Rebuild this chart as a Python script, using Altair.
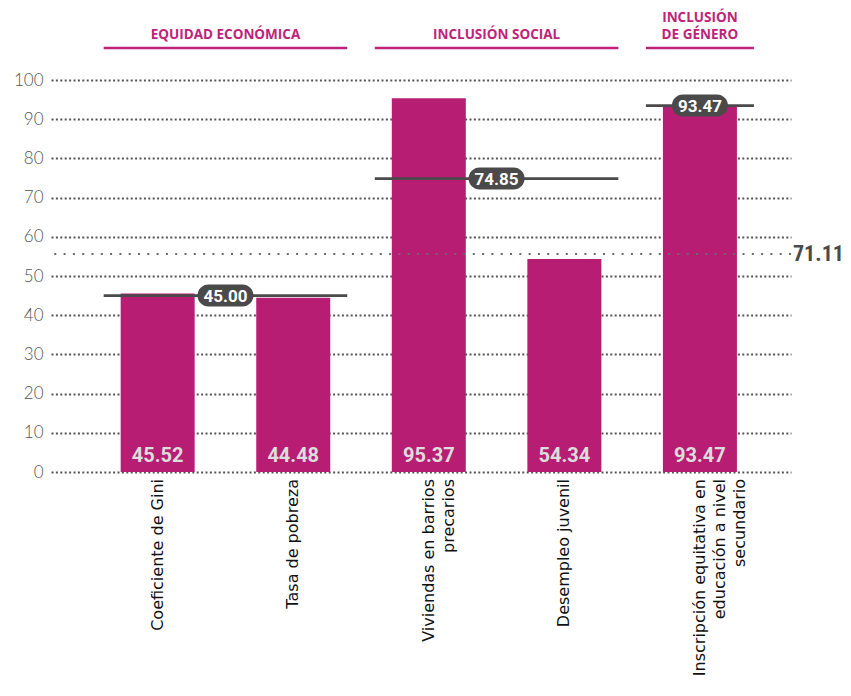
import altair as alt
import pandas as pd

# ---- data ----
categories = [
    "Coeficiente de Gini",
    "Tasa de pobreza",
    "Viviendas en barrios\nprecarios",
    "Desempleo juvenil",
    "Inscripción equitativa en\neducación a nivel\nsecundario",
]
values = [45.52, 44.48, 95.37, 54.34, 93.47]

group_line1 = ["", "", "INCLUSIÓN"]
group_line2 = ["EQUIDAD ECONÓMICA", "INCLUSIÓN SOCIAL", "DE GÉNERO"]
group_start = [0, 2, 4]
group_end = [1, 3, 4]
group_avg = [45.00, 74.85, 93.47]

overall_label = "71.11"
overall_line_value = 55.6  # position of the dotted line as drawn in the picture

y_ticks = [0, 10, 20, 30, 40, 50, 60, 70, 80, 90, 100]
x_domain = [-0.75, 4.635]

BAR = "#B71E73"
HEAD = "#BE237A"
DARK = "#4A4A4A"

bars_df = pd.DataFrame({"cat": categories, "value": values, "idx": list(range(len(categories)))})
groups_df = pd.DataFrame({"l1": group_line1, "l2": group_line2, "start": group_start,
                          "end": group_end, "avg": group_avg})
groups_df["mid"] = (groups_df["start"] + groups_df["end"]) / 2

xs = alt.Scale(domain=x_domain, nice=False, zero=False)
ys = alt.Scale(domain=[0, 100], nice=False)

y_axis = alt.Axis(
    values=y_ticks,
    tickCount=11,
    title=None,
    domain=False,
    ticks=False,
    labelPadding=8,
    labelFont="Lato",
    labelFontWeight=300,
    labelFontSize=17,
    labelColor="#555555",
    labelOverlap=False,
    grid=True,
    gridDash=[2, 2.4],
    gridWidth=1.8,
    gridColor="#555555",
)


def Y(field):
    return alt.Y(field, scale=ys, axis=y_axis)


def Yd(v):
    return alt.YDatum(v, scale=ys, axis=y_axis)


base_b = alt.Chart(bars_df)
base_g = alt.Chart(groups_df)

bars = base_b.mark_bar(width=74, color=BAR).encode(
    x=alt.X("idx:Q", scale=xs, axis=None),
    y=Y("value:Q"),
)

value_labels = base_b.mark_text(
    font="Roboto", fontWeight="bold", fontSize=20, color="#DDDDDD", baseline="middle", dy=-16
).encode(
    x=alt.X("idx:Q", scale=xs, axis=None),
    y=Yd(0),
    text=alt.Text("value:Q", format=".2f"),
)

cat_labels = base_b.mark_text(
    font="DejaVu Sans", fontSize=16, color="#111111", angle=270, align="right",
    baseline="middle", lineBreak="\n", lineHeight=20, dx=-7,
).encode(
    x=alt.X("idx:Q", scale=xs, axis=None),
    y=Yd(0),
    text="cat:N",
)

avg_rules = base_g.mark_rule(color=DARK, strokeWidth=2.6, xOffset=-54, x2Offset=54).encode(
    x=alt.X("start:Q", scale=xs, axis=None),
    x2="end:Q",
    y=Y("avg:Q"),
)

badges = base_g.mark_rect(
    color=DARK, cornerRadius=11, xOffset=-28, x2Offset=28, yOffset=-11, y2Offset=11
).encode(
    x=alt.X("mid:Q", scale=xs, axis=None),
    x2="mid:Q",
    y=Y("avg:Q"),
    y2="avg:Q",
)

badge_text = base_g.mark_text(
    font="Roboto", fontWeight="bold", fontSize=17, color="white", baseline="middle", dy=1
).encode(
    x=alt.X("mid:Q", scale=xs, axis=None),
    y=Y("avg:Q"),
    text=alt.Text("avg:Q", format=".2f"),
)

head_rules = base_g.mark_rule(color=HEAD, strokeWidth=2.7, xOffset=-54, x2Offset=54).encode(
    x=alt.X("start:Q", scale=xs, axis=None),
    x2="end:Q",
    y=Yd(100),
    yOffset=alt.value(-32),
)

head_text2 = base_g.mark_text(
    font="Open Sans", fontWeight="bold", fontSize=13.5, color=HEAD, baseline="alphabetic",
).encode(
    x=alt.X("mid:Q", scale=xs, axis=None),
    y=Yd(100),
    yOffset=alt.value(-41),
    text="l2:N",
)

head_text1 = base_g.mark_text(
    font="Open Sans", fontWeight="bold", fontSize=13.5, color=HEAD, baseline="alphabetic",
).encode(
    x=alt.X("mid:Q", scale=xs, axis=None),
    y=Yd(100),
    yOffset=alt.value(-58),
    text="l1:N",
)

overall_df = pd.DataFrame({"v": [overall_line_value], "t": [overall_label]})

overall_rule = alt.Chart(overall_df).mark_rule(
    color="#6A6A6A", strokeDash=[2, 7.3], strokeWidth=2
).encode(y=Y("v:Q"))

overall_text = alt.Chart(overall_df).mark_text(
    font="Liberation Sans Narrow, Roboto Condensed, Roboto", fontWeight="bold", fontSize=22,
    color="#4A4A4A", align="left", baseline="middle", dx=7
).encode(
    x=alt.XDatum(x_domain[1], scale=xs, axis=None),
    y=Y("v:Q"),
    text="t:N",
)

chart = alt.layer(
    bars, value_labels, cat_labels, overall_rule, avg_rules, badges, badge_text,
    head_rules, head_text1, head_text2, overall_text,
).properties(
    width=740,
    height=392,
    autosize=alt.AutoSizeParams(type="none"),
    padding={"left": 43, "top": 72, "right": 52, "bottom": 208},
).configure_view(stroke=None)

chart.save("out.html", embed_options={"renderer": "svg", "actions": False})
